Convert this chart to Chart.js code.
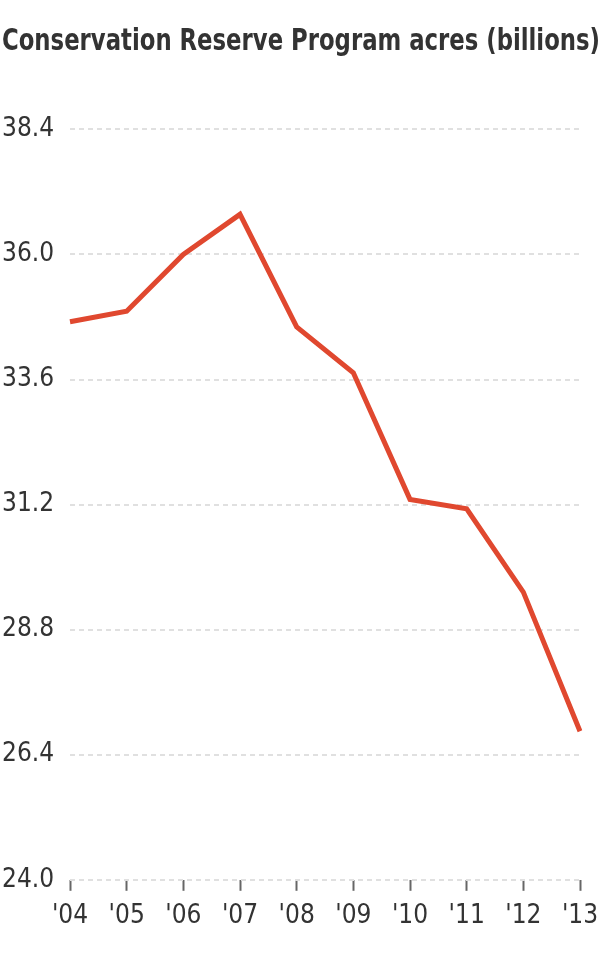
<!DOCTYPE html>
<html>
<head>
<meta charset="utf-8">
<script src="https://cdn.jsdelivr.net/npm/chart.js@4"></script>
<style>
  html, body { margin: 0; padding: 0; background: #fff; }
  #wrap { width: 600px; height: 960px; }
</style>
</head>
<body>
<div id="wrap"><canvas id="acresChart"></canvas></div>
<script>
const years = ["'04", "'05", "'06", "'07", "'08", "'09", "'10", "'11", "'12", "'13"];
const acres = [34.71, 34.91, 36.0, 36.77, 34.61, 33.73, 31.3, 31.12, 29.52, 26.85];
const yTicks = [24.0, 26.4, 28.8, 31.2, 33.6, 36.0, 38.4];

const fontFamily = "'Liberation Sans Narrow', 'DejaVu Sans Condensed', 'Roboto', sans-serif";

new Chart(document.getElementById('acresChart'), {
    type: 'line',
    data: {
        labels: years,
        datasets: [{
            label: 'Conservation Reserve Program acres',
            data: acres,
            borderColor: '#e0482f',
            borderWidth: 5,
            borderJoinStyle: 'miter',
            borderCapStyle: 'butt',
            pointRadius: 0,
            fill: false,
            tension: 0
        }]
    },
    options: {
        responsive: true,
        maintainAspectRatio: false,
        animation: false,
        layout: { padding: { left: 2, right: 0, bottom: 18, top: 0 } },
        plugins: {
            legend: { display: false },
            tooltip: { enabled: false },
            title: {
                display: true,
                text: 'Conservation Reserve Program acres (billions)',
                align: 'start',
                color: '#333',
                font: { family: fontFamily, size: 29.5, weight: 'bold' },
                padding: { top: 25, bottom: 69 }
            }
        },
        scales: {
            x: {
                offset: false,
                border: { display: false },
                afterFit: scale => { scale.paddingRight = 20; scale.paddingLeft = 0; },
                grid: {
                    drawOnChartArea: false,
                    drawTicks: true,
                    tickLength: 11,
                    tickColor: '#666',
                    tickWidth: 2
                },
                ticks: {
                    color: '#333',
                    padding: 10,
                    maxRotation: 0,
                    autoSkip: false,
                    font: { family: fontFamily, size: 26 }
                }
            },
            y: {
                min: 24.0,
                max: 38.4,
                afterBuildTicks: scale => {
                    scale.ticks = yTicks.map(v => ({ value: v }));
                },
                afterFit: scale => { scale.width = 68; },
                border: { display: false, dash: [5, 4] },
                grid: {
                    color: '#e0e0e0',
                    lineWidth: 2,
                    drawTicks: false
                },
                ticks: {
                    color: '#333',
                    crossAlign: 'far',
                    padding: 0,
                    font: { family: fontFamily, size: 26 },
                    callback: v => v.toFixed(1)
                }
            }
        }
    }
});
</script>
</body>
</html>
